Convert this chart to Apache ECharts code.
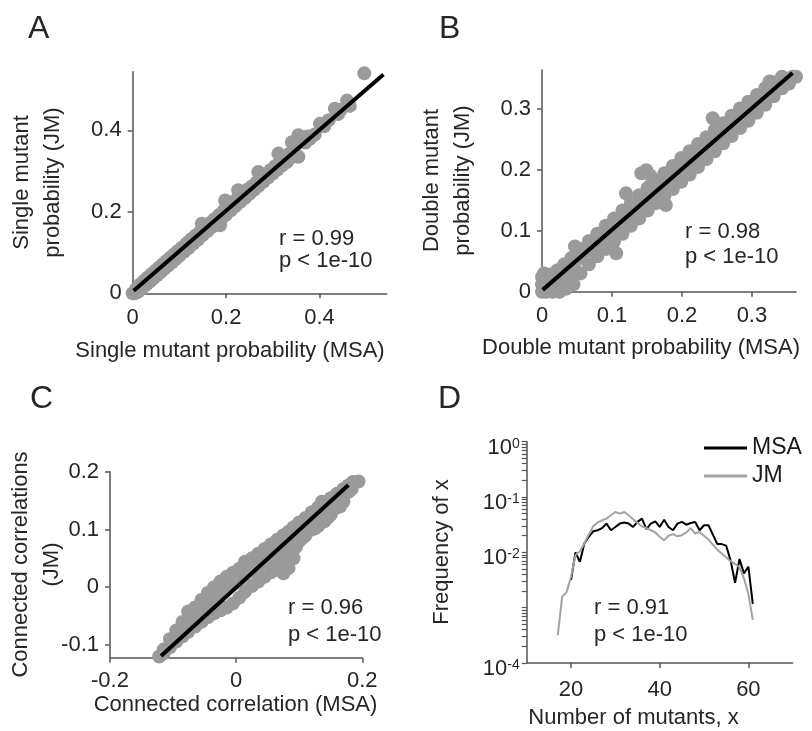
<!DOCTYPE html>
<html>
<head>
<meta charset="utf-8">
<script src="https://cdn.jsdelivr.net/npm/echarts/dist/echarts.min.js"></script>
<style>
html,body{margin:0;padding:0;background:#fff;}
#chart{width:812px;height:731px;}
</style>
</head>
<body>
<div id="chart"></div>
<script>
// ---------- Panel A: single mutant probability ----------
var A_msa = [0,0.004,0.008,0.012,0.016,0.02,0.024,0.028,0.032,0.036,0.04,0.044,0.048,0.052,0.056,0.06,0.064,0.068,0.072,0.076,0.08,0.084,0.088,0.092,0.096,0.1,0.105,0.11,0.115,0.12,0.125,0.13,0.135,0.14,0.145,0.148,0.15,0.155,0.16,0.165,0.17,0.175,0.18,0.187,0.185,0.19,0.195,0.198,0.2,0.205,0.21,0.215,0.22,0.226,0.225,0.23,0.235,0.24,0.245,0.25,0.255,0.26,0.265,0.269,0.27,0.275,0.28,0.285,0.29,0.295,0.3,0.305,0.31,0.312,0.315,0.32,0.325,0.33,0.335,0.341,0.34,0.345,0.35,0.355,0.355,0.36,0.365,0.37,0.375,0.38,0.39,0.401,0.41,0.42,0.433,0.44,0.445,0.459,0.465,0.496];
var A_jm  = [0,0,0.012,0.004,0.022,0.012,0.03,0.02,0.038,0.028,0.047,0.036,0.055,0.044,0.063,0.052,0.071,0.06,0.079,0.068,0.087,0.076,0.095,0.084,0.103,0.092,0.112,0.102,0.122,0.112,0.132,0.122,0.142,0.132,0.152,0.171,0.143,0.162,0.153,0.172,0.163,0.182,0.173,0.167,0.192,0.183,0.203,0.228,0.193,0.213,0.204,0.224,0.214,0.253,0.234,0.224,0.244,0.234,0.254,0.244,0.262,0.254,0.272,0.298,0.264,0.282,0.274,0.292,0.284,0.302,0.294,0.312,0.304,0.343,0.322,0.314,0.332,0.322,0.342,0.371,0.334,0.352,0.365,0.388,0.335,0.372,0.38,0.37,0.385,0.38,0.39,0.416,0.41,0.425,0.453,0.44,0.45,0.473,0.46,0.54];
var A_fit_x = [0.002,0.537];
var A_fit_y = [0.006,0.537];

// ---------- Panel B: double mutant probability ----------
var B_msa = [0,0,0,0.003,0.006,0.008,0.012,0.015,0.018,0.022,0.025,0.028,0.032,0.035,0.038,0.042,0.045,0.047,0.048,
  0.055,0.055,0.055,0.067,0.067,0.067,0.079,0.079,0.079,0.091,0.091,0.091,0.103,0.103,0.103,0.106,0.115,0.115,0.115,0.12,0.127,0.127,0.127,0.139,0.139,0.139,0.142,0.149,0.155,0.151,0.151,0.151,0.163,0.163,0.163,0.175,0.175,0.175,0.177,0.187,0.187,0.187,0.199,0.199,0.199,0.211,0.211,0.211,0.223,0.223,0.223,0.235,0.235,0.235,0.244,0.247,0.247,0.247,0.259,0.259,0.259,0.271,0.271,0.271,0.283,0.283,0.283,0.295,0.295,0.295,0.307,0.307,0.307,0.319,0.319,0.319,0.325,0.331,0.331,0.331,0.343,0.343,0.343,0.353,0.358,0.363];
var B_jm  = [0,0.012,0.024,0.03,0,0.015,0.028,0,0.012,0.035,0,0.015,0.045,0.005,0.025,0.055,0.012,0.074,0.035,
  0.07,0.055,0.03,0.083,0.067,0.045,0.095,0.079,0.058,0.108,0.091,0.07,0.12,0.103,0.082,0.063,0.133,0.115,0.095,0.161,0.145,0.127,0.108,0.158,0.139,0.12,0.194,0.199,0.19,0.17,0.151,0.133,0.182,0.163,0.145,0.194,0.175,0.157,0.142,0.206,0.187,0.168,0.219,0.199,0.18,0.23,0.211,0.192,0.242,0.223,0.204,0.253,0.235,0.217,0.284,0.265,0.247,0.23,0.276,0.259,0.243,0.288,0.271,0.255,0.3,0.283,0.268,0.311,0.295,0.28,0.322,0.307,0.293,0.333,0.319,0.306,0.344,0.343,0.331,0.32,0.352,0.343,0.333,0.341,0.352,0.352];
var B_fit_x = [0.001,0.358];
var B_fit_y = [0.003,0.358];

// ---------- Panel C: connected correlations ----------
var C_msa = [-0.122,-0.115,-0.115,-0.105,-0.105,-0.095,-0.095,-0.085,-0.085,-0.076,-0.076,-0.076,-0.065,-0.065,-0.065,-0.055,-0.055,-0.055,-0.045,-0.045,-0.045,-0.035,-0.035,-0.035,-0.025,-0.025,-0.025,-0.015,-0.015,-0.015,-0.005,-0.005,-0.005,0.005,0.005,0.005,0.014,0.014,0.014,0.025,0.025,0.025,0.035,0.035,0.035,0.045,0.045,0.045,0.055,0.055,0.055,0.065,0.065,0.065,0.075,0.075,0.075,0.083,0.083,0.083,0.091,0.091,0.091,0.1,0.1,0.1,0.11,0.11,0.11,0.12,0.12,0.12,0.13,0.13,0.13,0.136,0.14,0.14,0.14,0.15,0.15,0.15,0.16,0.16,0.16,0.17,0.17,0.17,0.178,0.178,0.185,0.194,
  0.07,0.08,0.088,0.095,0.06,0.105,0.125,0.145,0.165,0.183];
var C_jm  = [-0.12,-0.108,-0.115,-0.09,-0.104,-0.075,-0.094,-0.06,-0.085,-0.042,-0.077,-0.06,-0.035,-0.052,-0.068,-0.022,-0.04,-0.06,-0.01,-0.03,-0.052,0,-0.02,-0.045,0.01,-0.01,-0.04,0.018,0,-0.035,0.025,0.005,-0.028,0.032,0.012,-0.018,0.044,0.02,-0.008,0.05,0.028,0.002,0.058,0.036,0.01,0.066,0.045,0.018,0.074,0.054,0.026,0.082,0.062,0.03,0.09,0.07,0.024,0.096,0.067,0.033,0.104,0.065,0.05,0.112,0.095,0.08,0.12,0.105,0.09,0.13,0.115,0.1,0.138,0.122,0.106,0.148,0.146,0.13,0.114,0.154,0.14,0.126,0.162,0.15,0.138,0.17,0.158,0.148,0.176,0.165,0.182,0.183,
  0.045,0.05,0.075,0.07,0.04,0.085,0.102,0.12,0.14,0.17];
var C_fit_x = [-0.119,0.178];
var C_fit_y = [-0.119,0.177];

// ---------- Panel D: number of mutants distribution ----------
var D_x_msa = [20,21,22,23,24,25,26,27,28,29,30,31,32,33,34,35,36,37,38,39,40,41,42,43,44,45,46,47,48,49,50,51,52,53,54,55,56,57,58,59,60,61];
var D_msa   = [0.00316,0.0100,0.00676,0.0145,0.0191,0.0240,0.0251,0.0275,0.0331,0.0251,0.0288,0.0331,0.0347,0.0331,0.0288,0.0355,0.0407,0.0263,0.0331,0.0363,0.0288,0.0389,0.0288,0.0251,0.0331,0.0355,0.0316,0.0339,0.0355,0.0251,0.0309,0.0309,0.0209,0.0141,0.0141,0.0132,0.00708,0.00282,0.00759,0.00417,0.00550,0.00117];
var D_x_jm  = [17,18,19,20,21,22,23,24,25,26,27,28,29,30,31,32,33,34,35,36,37,38,39,40,41,42,43,44,45,46,47,48,49,50,51,52,53,54,55,56,57,58,59,60,61];
var D_jm    = [0.000316,0.00158,0.00191,0.00363,0.00891,0.0105,0.0145,0.0209,0.0295,0.0347,0.0380,0.0407,0.0468,0.0537,0.0501,0.0537,0.0468,0.0398,0.0339,0.0295,0.0275,0.0251,0.0229,0.0191,0.0166,0.0200,0.0214,0.0195,0.0204,0.0229,0.0275,0.0219,0.0234,0.0200,0.0170,0.0138,0.0112,0.00955,0.00813,0.00692,0.00617,0.00537,0.00339,0.00178,0.000603];

// tick labels
var A_ticks = [0,0.2,0.4];
var B_ticks = [0,0.1,0.2,0.3];
var C_xticks = [-0.2,0,0.2];
var C_yticks = [-0.1,0,0.1,0.2];
var D_xticks = [20,40,60];
var D_ylabels = [0.0001,0.01,0.1,1];
var D_major = [0.0001,0.001,0.01,0.1,1];

// ---------- build ----------
function zip(a,b){ var o=[]; for (var i=0;i<a.length;i++) o.push([a[i],b[i]]); return o; }
var FONT = "'Liberation Sans', Arial, sans-serif";
var TXT = '#262626';
var AX = '#555555';

function valAxis(grid, min, max, ticks, margin) {
  return {
    type:'value', gridIndex:grid, min:min, max:max,
    axisLine:{show:true, onZero:false, lineStyle:{color:AX, width:1.5}},
    axisTick:{show:true, inside:false, length:5, customValues:ticks, lineStyle:{color:AX, width:1.5}},
    axisLabel:{show:true, customValues:ticks, margin:margin, fontSize:22, color:TXT, fontFamily:FONT,
      formatter:function(v){ return String(Math.round(v*1000)/1000); }},
    splitLine:{show:false}
  };
}

// tick positions of the log axis: decades plus 2..9 x each decade
var D_allTicks = D_major.slice();
[0.0001,0.001,0.01,0.1].forEach(function(d){ for (var k=2;k<=9;k++) D_allTicks.push(k*d); });

var chart = echarts.init(document.getElementById('chart'), null, {renderer:'canvas'});

function txt(x,y,s,size,extra){
  var e = {type:'text', x:x, y:y, silent:true,
    style:{text:s, font:size+'px '+FONT, fill:TXT, align:'left', verticalAlign:'middle'}};
  if (extra) { for (var k in extra) { if (k==='style') { for (var j in extra.style) e.style[j]=extra.style[j]; } else e[k]=extra[k]; } }
  return e;
}

var DOT = {symbolSize:14, clip:false, silent:true, itemStyle:{color:'#9a9a9a', opacity:1}};
function scat(i, xs, ys){ var s = {type:'scatter', xAxisIndex:i, yAxisIndex:i, data:zip(xs,ys)}; for (var k in DOT) s[k]=DOT[k]; return s; }
function fit(i, xs, ys){ return {type:'line', xAxisIndex:i, yAxisIndex:i, data:zip(xs,ys), symbol:'none', clip:false, silent:true, lineStyle:{color:'#000', width:4}}; }

var option = {
  animation:false,
  backgroundColor:'#ffffff',
  textStyle:{fontFamily:FONT},
  grid:[
    {left:132.7, top:71.7, width:254, height:221.6, outerBoundsMode:'none'},
    {left:542, top:70, width:254, height:221.7, outerBoundsMode:'none'},
    {left:110, top:471.7, width:252.3, height:186, outerBoundsMode:'none'},
    {left:526.7, top:441.7, width:266, height:221.3, outerBoundsMode:'none'}
  ],
  xAxis:[
    valAxis(0, 0, 0.544, A_ticks, 14),
    valAxis(1, 0, 0.363, B_ticks, 13),
    valAxis(2, -0.2, 0.2, C_xticks, 12),
    valAxis(3, 10, 70, D_xticks, 16)
  ],
  yAxis:[
    valAxis(0, 0, 0.544, A_ticks, 11),
    valAxis(1, 0, 0.363, B_ticks, 11),
    valAxis(2, -0.122, 0.2, C_yticks, 11),
    {
      type:'log', logBase:10, gridIndex:3, min:0.0001, max:1, position:'left',
      axisLine:{show:true, onZero:false, lineStyle:{color:AX, width:1.5}},
      axisTick:{show:true, inside:false, length:5, customValues:D_allTicks, lineStyle:{color:AX, width:1.2}},
      axisLabel:{show:true, customValues:D_ylabels, margin:7, padding:[12,0,0,0],
        formatter:function(v){ var e=Math.round(Math.log(v)/Math.LN10); return '{b|10}{s|'+e+'}'; },
        rich:{
          b:{fontSize:22, color:TXT, fontFamily:FONT, lineHeight:22, padding:[6,0,0,0], verticalAlign:'bottom'},
          s:{fontSize:14, color:TXT, fontFamily:FONT, lineHeight:14, verticalAlign:'top'}
        }},
      splitLine:{show:false}
    }
  ],
  legend:{
    data:['MSA','JM'], orient:'vertical', left:704, top:436, padding:0,
    icon:'rect', itemWidth:43, itemHeight:3, itemGap:4,
    textStyle:{fontSize:23, color:'#1a1a1a', fontFamily:FONT, lineHeight:24}
  },
  series:[
    scat(0, A_msa, A_jm), fit(0, A_fit_x, A_fit_y),
    scat(1, B_msa, B_jm), fit(1, B_fit_x, B_fit_y),
    scat(2, C_msa, C_jm), fit(2, C_fit_x, C_fit_y),
    {name:'MSA', type:'line', xAxisIndex:3, yAxisIndex:3, data:zip(D_x_msa,D_msa), symbol:'none', silent:true,
      itemStyle:{color:'#000000'}, lineStyle:{color:'#000000', width:2}},
    {name:'JM', type:'line', xAxisIndex:3, yAxisIndex:3, data:zip(D_x_jm,D_jm), symbol:'none', silent:true,
      itemStyle:{color:'#a3a3a3'}, lineStyle:{color:'#a3a3a3', width:2}}
  ],
  graphic:[
    txt(28, 29, 'A', 32),
    txt(439, 29, 'B', 32),
    txt(30, 399, 'C', 32),
    txt(438, 399, 'D', 32),
    txt(279, 238.5, 'r = 0.99', 22),
    txt(279, 261, 'p < 1e-10', 22),
    txt(685, 232, 'r = 0.98', 22),
    txt(685, 256.5, 'p < 1e-10', 22),
    txt(288, 608, 'r = 0.96', 22),
    txt(288, 634.5, 'p < 1e-10', 22),
    txt(594, 607.5, 'r = 0.91', 22),
    txt(594, 635, 'p < 1e-10', 22),
    txt(230, 351, 'Single mutant probability (MSA)', 22, {style:{align:'center'}}),
    txt(641, 347.5, 'Double mutant probability (MSA)', 22, {style:{align:'center'}}),
    txt(235.5, 705, 'Connected correlation (MSA)', 22, {style:{align:'center'}}),
    txt(633.5, 718, 'Number of mutants, x', 22, {style:{align:'center'}}),
    txt(37.7, 182.5, 'Single mutant\nprobability (JM)', 22, {rotation:Math.PI/2, style:{align:'center', lineHeight:31}}),
    txt(447.7, 180.5, 'Double mutant\nprobability (JM)', 22, {rotation:Math.PI/2, style:{align:'center', lineHeight:31}}),
    txt(36, 564.5, 'Connected correlations\n(JM)', 22, {rotation:Math.PI/2, style:{align:'center', lineHeight:31}}),
    txt(442, 552, 'Frequency of x', 22, {rotation:Math.PI/2, style:{align:'center'}})
  ]
};
chart.setOption(option);
</script>
</body>
</html>
